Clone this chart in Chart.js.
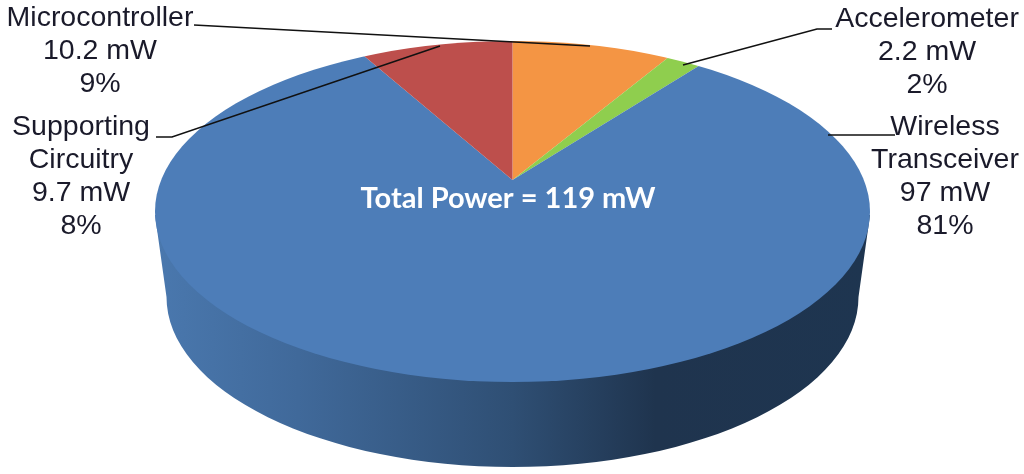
<!DOCTYPE html>
<html>
<head>
<meta charset="utf-8">
<title>Total power</title>
<style>
  html, body { margin: 0; padding: 0; background: #fff; }
  canvas { display: block; }
</style>
<script src="https://cdn.jsdelivr.net/npm/chart.js@4"></script>
</head>
<body>
<canvas id="myChart" width="1024" height="474"></canvas>
<script>
const labelLines = [
  ['Microcontroller'],
  ['Accelerometer'],
  ['Wireless', 'Transceiver'],
  ['Supporting', 'Circuitry']
];
const powerValues = [10.2, 2.2, 97, 9.7];
const percentValues = [9, 2, 81, 8];
const sliceColors = ['#f49544', '#8fce4e', '#4d7db8', '#bd4f4c'];
const centerText = 'Total Power = 119 mW';

// top face and rim of the tilted pie
const top3d = { cx: 512.5, cy: 211.5, rx: 357.5, ry: 170.5, apexY: 180, aspect: 2.13 };
const rim3d = { cy: 297, rx: 346, ry: 170, edgeY: 215 };

// where each label block sits, and the leader line that goes with it
const labelPos = [
  { x: 100, y: 18, leader: [[194, 25], [590, 46]] },
  { x: 927, y: 19, leader: [[832, 29], [817, 29], [683, 65]] },
  { x: 945, y: 127, leader: [[895, 135], [828, 135]] },
  { x: 81, y: 127, leader: [[156, 137], [172, 137], [440, 46]] }
];

function drawRim(ctx) {
  const grad = ctx.createLinearGradient(top3d.cx - top3d.rx, 0, top3d.cx + top3d.rx, 0);
  grad.addColorStop(0, '#4a78ae');
  grad.addColorStop(0.2, '#40699a');
  grad.addColorStop(0.5, '#2f4f74');
  grad.addColorStop(0.7, '#1f344e');
  grad.addColorStop(1, '#1e3550');
  ctx.fillStyle = grad;
  ctx.beginPath();
  ctx.moveTo(top3d.cx - top3d.rx, rim3d.edgeY);
  ctx.lineTo(top3d.cx - rim3d.rx, rim3d.cy);
  ctx.ellipse(top3d.cx, rim3d.cy, rim3d.rx, rim3d.ry, 0, Math.PI, 0, true);
  ctx.lineTo(top3d.cx + top3d.rx, rim3d.edgeY);
  ctx.closePath();
  ctx.fill();
}

const tiltedPie = {
  id: 'tiltedPie',
  beforeDatasetsDraw(chart) {
    const ctx = chart.ctx;
    const arc = chart.getDatasetMeta(0).data[0];
    drawRim(ctx);
    ctx.save();
    ctx.beginPath();
    ctx.ellipse(top3d.cx, top3d.cy, top3d.rx, top3d.ry, 0, 0, Math.PI * 2);
    ctx.clip();
    // arcs are drawn oversized, the ellipse clip gives the outline
    const sy = 240 / arc.outerRadius;
    ctx.translate(top3d.cx, top3d.apexY);
    ctx.scale(sy * top3d.aspect, sy);
    ctx.translate(-arc.x, -arc.y);
  },
  afterDatasetsDraw(chart) {
    const ctx = chart.ctx;
    ctx.restore();

    ctx.strokeStyle = '#111';
    ctx.lineWidth = 1.5;
    labelPos.forEach(pos => {
      ctx.beginPath();
      pos.leader.forEach((p, i) => (i ? ctx.lineTo(p[0], p[1]) : ctx.moveTo(p[0], p[1])));
      ctx.stroke();
    });

    ctx.textAlign = 'center';
    ctx.textBaseline = 'middle';
    ctx.font = '28.5px "Liberation Sans"';
    ctx.fillStyle = '#1a1a2a';
    labelLines.forEach((name, i) => {
      const lines = name.concat([powerValues[i] + ' mW', percentValues[i] + '%']);
      lines.forEach((line, j) => ctx.fillText(line, labelPos[i].x, labelPos[i].y + j * 33));
    });

    ctx.font = 'bold 29px Lato';
    ctx.fillStyle = '#fff';
    ctx.fillText(centerText, 508, 199);
  }
};

new Chart(document.getElementById('myChart'), {
  type: 'pie',
  data: {
    labels: labelLines.map(name => name.join(' ')),
    datasets: [
      {
        data: powerValues,
        backgroundColor: sliceColors,
        borderWidth: 0
      }
    ]
  },
  options: {
    responsive: false,
    animation: false,
    layout: { padding: 0 },
    plugins: {
      legend: { display: false },
      tooltip: { enabled: false }
    }
  },
  plugins: [tiltedPie]
});
</script>
</body>
</html>
